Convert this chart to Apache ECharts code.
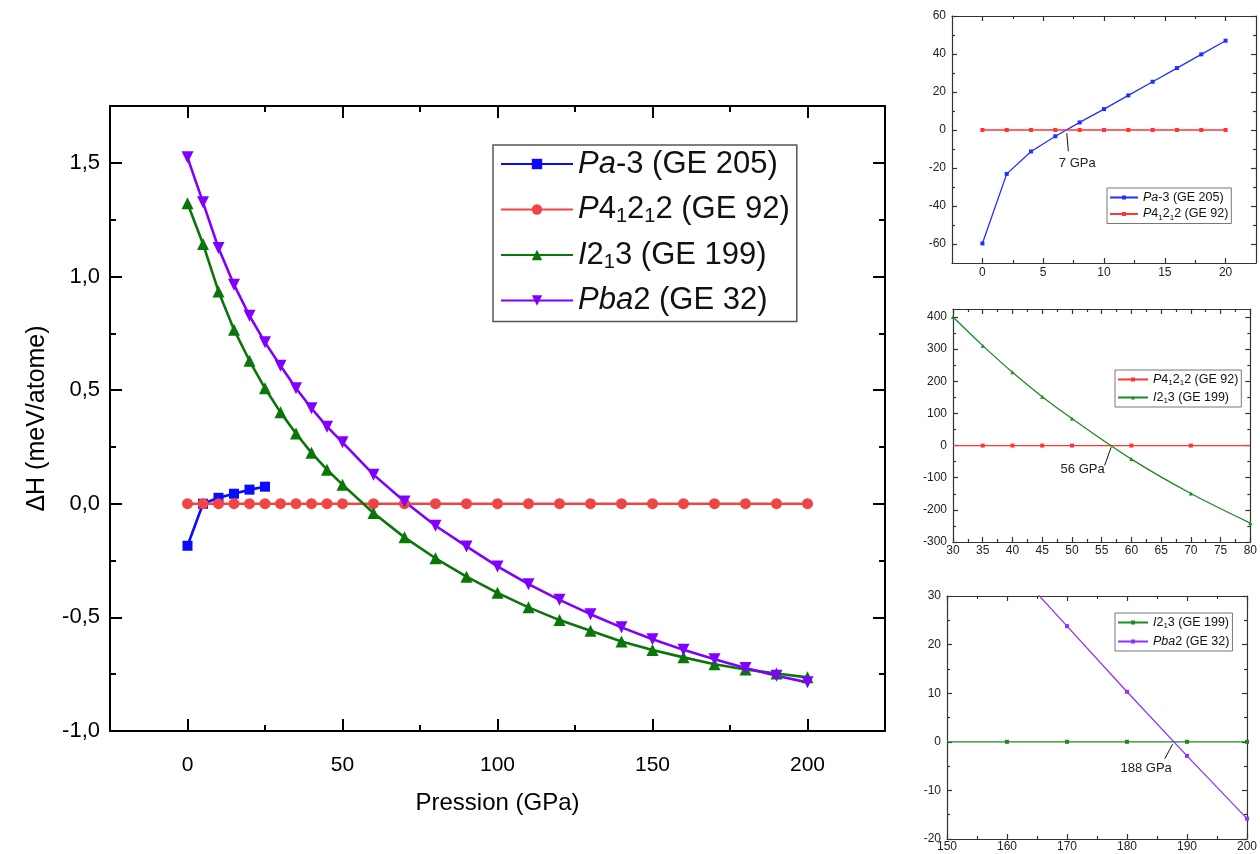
<!DOCTYPE html>
<html><head><meta charset="utf-8">
<script src="https://cdn.jsdelivr.net/npm/echarts@6/dist/echarts.min.js"></script>
<style>html,body{margin:0;padding:0;background:#fff;}#c{width:1260px;height:854px;}</style>
</head><body><div id="c"></div>
<script>
// ---------- main chart data ----------
const mainPa3X = [0, 5, 10, 15, 20, 25];
const mainPa3Y = [-0.185, 0.0, 0.026, 0.044, 0.062, 0.075];
const mainX = [0, 5, 10, 15, 20, 25, 30, 35, 40, 45, 50, 60, 70, 80, 90, 100, 110, 120, 130, 140, 150, 160, 170, 180, 190, 200];
const mainP41Y = [0, 0, 0, 0, 0, 0, 0, 0, 0, 0, 0, 0, 0, 0, 0, 0, 0, 0, 0, 0, 0, 0, 0, 0, 0, 0];
const mainI213Y = [1.322, 1.143, 0.934, 0.766, 0.629, 0.508, 0.402, 0.309, 0.224, 0.150, 0.084, -0.041, -0.148, -0.240, -0.321, -0.392, -0.456, -0.512, -0.559, -0.606, -0.644, -0.676, -0.706, -0.729, -0.747, -0.764];
const mainPba2Y = [1.524, 1.326, 1.125, 0.964, 0.827, 0.710, 0.607, 0.508, 0.420, 0.339, 0.270, 0.128, 0.010, -0.097, -0.188, -0.276, -0.354, -0.423, -0.486, -0.544, -0.596, -0.643, -0.684, -0.723, -0.757, -0.786];
const mainXTicks = [0, 50, 100, 150, 200];
const mainXMinor = [25, 75, 125, 175];
const mainYTicks = [-1, -0.5, 0, 0.5, 1, 1.5];
const mainYMinor = [-0.75, -0.25, 0.25, 0.75, 1.25];

// ---------- inset 1 (7 GPa) ----------
const in1X = [0, 2, 4, 6, 8, 10, 12, 14, 16, 18, 20];
const in1Pa3Y = [-59.7, -23.1, -11.3, -3.3, 4.0, 11.0, 18.2, 25.4, 32.6, 39.8, 47.0];
const in1P41Y = [0, 0, 0, 0, 0, 0, 0, 0, 0, 0, 0];
const in1XTicks = [0, 5, 10, 15, 20];
const in1XMinor = [2.5, 7.5, 12.5, 17.5];
const in1YTicks = [-60, -40, -20, 0, 20, 40, 60];
const in1YMinor = [-50, -30, -10, 10, 30, 50];

// ---------- inset 2 (56 GPa) ----------
const in2X = [30, 35, 40, 45, 50, 60, 70, 80];
const in2P41Y = [0, 0, 0, 0, 0, 0, 0, 0];
const in2I213Y = [400, 311, 228, 152, 84, -42, -149, -241];
const in2XTicks = [30, 35, 40, 45, 50, 55, 60, 65, 70, 75, 80];
const in2XMinor = [32.5, 37.5, 42.5, 47.5, 52.5, 57.5, 62.5, 67.5, 72.5, 77.5];
const in2YTicks = [-300, -200, -100, 0, 100, 200, 300, 400];
const in2YMinor = [-250, -150, -50, 50, 150, 250, 350];

// ---------- inset 3 (188 GPa) ----------
const in3X = [150, 160, 170, 180, 190, 200];
const in3I213Y = [0, 0, 0, 0, 0, 0];
const in3PbaX = [160, 170, 180, 190, 200];
const in3PbaY = [37.3, 23.8, 10.3, -2.9, -15.8];
const in3XTicks = [150, 160, 170, 180, 190, 200];
const in3XMinor = [155, 165, 175, 185, 195];
const in3YTicks = [-20, -10, 0, 10, 20, 30];
const in3YMinor = [-15, -5, 5, 15, 25];

// annotations (data coordinates)
const ann1 = {text: '7 GPa', at: [7.8, -17.4], from: [7.07, -11.2], to: [6.94, -1.7]};
const ann2 = {text: '56 GPa', at: [51.8, -75], from: [55.5, -62], to: [56.6, -5]};
const ann3 = {text: '188 GPa', at: [183.2, -5.4], from: [186.3, -3.5], to: [187.6, -0.5]};

const NAMES = {
  pa3: 'Pa-3 (GE 205)', p41: 'P4₁2₁2 (GE 92)', i213: 'I2₁3 (GE 199)', pba2: 'Pba2 (GE 32)'
};
const RICH = {
  'Pa-3 (GE 205)': '{i|Pa}{n|-3 (GE 205)}',
  'P4₁2₁2 (GE 92)': '{i|P}{n|4}{s|1}{n|2}{s|1}{n|2 (GE 92)}',
  'I2₁3 (GE 199)': '{i|I}{n|2}{s|1}{n|3 (GE 199)}',
  'Pba2 (GE 32)': '{i|Pba}{n|2 (GE 32)}'
};

const FONT = '"Liberation Sans", Arial, sans-serif';
const comma = v => v.toFixed(1).replace('.', ',');

const xAxes = [], yAxes = [];
function addAxes(list, dim, grid, min, max, majors, minors, opts) {
  const first = list.length;
  const pos = dim === 'x' ? ['bottom', 'top'] : ['left', 'right'];
  pos.forEach((p, k) => {
    const major = {
      type: 'value', gridIndex: grid, position: p, min: min, max: max,
      axisLine: {show: true, onZero: false, lineStyle: opts.line},
      axisTick: {show: true, inside: true, length: opts.len[0], customValues: majors, lineStyle: opts.line},
      axisLabel: k === 0 ? Object.assign({show: true, customValues: majors}, opts.label) : {show: false},
      splitLine: {show: false}, minorTick: {show: false}
    };
    if (k === 0 && opts.name) Object.assign(major, opts.name);
    list.push(major);
    list.push({
      type: 'value', gridIndex: grid, position: p, min: min, max: max,
      axisLine: {show: false, onZero: false},
      axisTick: {show: true, inside: true, length: opts.len[1], customValues: minors, lineStyle: opts.line},
      axisLabel: {show: false}, splitLine: {show: false}
    });
  });
  return first;
}

const mainLine = {color: '#000', width: 2};
const insetLine = {color: '#333', width: 1.2};
const gx0 = addAxes(xAxes, 'x', 0, -25, 225, mainXTicks, mainXMinor, {
  line: mainLine, len: [12, 6],
  label: {fontFamily: FONT, fontSize: 21, color: '#000', margin: 24},
  name: {name: 'Pression (GPa)', nameLocation: 'middle', nameGap: 60,
    nameTextStyle: {fontFamily: FONT, fontSize: 24, color: '#000'}}
});
const gy0 = addAxes(yAxes, 'y', 0, -1, 1.75, mainYTicks, mainYMinor, {
  line: mainLine, len: [12, 6],
  label: {fontFamily: FONT, fontSize: 22, color: '#000', margin: 10, formatter: comma},
  name: {name: 'ΔH (meV/atome)', nameLocation: 'middle', nameGap: 60,
    nameTextStyle: {fontFamily: FONT, fontSize: 25, color: '#000'}}
});
const insetLabel = (m) => ({fontFamily: FONT, fontSize: 12, color: '#222', margin: m});
const gx1 = addAxes(xAxes, 'x', 1, -2.5, 22.5, in1XTicks, in1XMinor, {line: insetLine, len: [5, 3], label: insetLabel(4)});
const gy1 = addAxes(yAxes, 'y', 1, -70, 60, in1YTicks, in1YMinor, {line: insetLine, len: [5, 3], label: insetLabel(6)});
const gx2 = addAxes(xAxes, 'x', 2, 30, 80, in2XTicks, in2XMinor, {line: insetLine, len: [5, 3], label: insetLabel(3)});
const gy2 = addAxes(yAxes, 'y', 2, -300, 425, in2YTicks, in2YMinor, {line: insetLine, len: [5, 3], label: insetLabel(6)});
const gx3 = addAxes(xAxes, 'x', 3, 150, 200, in3XTicks, in3XMinor, {line: insetLine, len: [5, 3], label: insetLabel(2)});
const gy3 = addAxes(yAxes, 'y', 3, -20, 30, in3YTicks, in3YMinor, {line: insetLine, len: [5, 3], label: insetLabel(6)});

const pairs = (xs, ys) => xs.map((x, i) => [x, ys[i]]);
const INV_TRI = 'path://M0,0 L10,0 L5,9 Z';

function lineSeries(name, xi, yi, data, color, symbol, size, width, extra) {
  return Object.assign({
    type: 'line', name: name, xAxisIndex: xi, yAxisIndex: yi, data: data,
    symbol: symbol, symbolSize: size, showAllSymbol: true, clip: true,
    lineStyle: {color: color, width: width}, itemStyle: {color: color},
    emphasis: {disabled: true}, animation: false, z: 3
  }, extra || {});
}
function annotate(a) {
  return {
    markLine: {
      silent: true, symbol: ['none', 'arrow'], symbolSize: [0, 7], animation: false,
      label: {show: false}, lineStyle: {color: '#111', width: 1, type: 'solid'},
      data: [[{coord: a.from}, {coord: a.to}]]
    },
    markPoint: {
      silent: true, symbol: 'circle', symbolSize: 1, animation: false,
      itemStyle: {color: 'rgba(0,0,0,0)'},
      label: {show: true, position: 'inside', formatter: a.text, fontFamily: FONT, fontSize: 13, color: '#222'},
      data: [{coord: a.at}]
    }
  };
}
// hide markers at the line ends that sit on the frame
const edgeless = (xs, ys, lo, hi) => xs.map((x, i) => (x === lo || x === hi) ? {value: [x, ys[i]], symbol: 'none'} : [x, ys[i]]);

const series = [
  // main
  lineSeries(NAMES.pa3, gx0, gy0, pairs(mainPa3X, mainPa3Y), '#0a0aff', 'rect', 10, 2.6),
  lineSeries(NAMES.p41, gx0, gy0, pairs(mainX, mainP41Y), '#f04545', 'circle', 11, 2.6),
  lineSeries(NAMES.i213, gx0, gy0, pairs(mainX, mainI213Y), '#0a760a', 'triangle', 12, 2.6),
  lineSeries(NAMES.pba2, gx0, gy0, pairs(mainX, mainPba2Y), '#8000ff', INV_TRI, 12, 2.6),
  // inset 1
  lineSeries(NAMES.pa3 + ' ', gx1, gy1, pairs(in1X, in1Pa3Y), '#1f2fff', 'rect', 4, 1.3),
  lineSeries(NAMES.p41 + ' ', gx1, gy1, pairs(in1X, in1P41Y), '#ff3535', 'rect', 4, 1.5, annotate(ann1)),
  // inset 2
  lineSeries(NAMES.p41 + '  ', gx2, gy2, edgeless(in2X, in2P41Y, 30, 80), '#ff3535', 'rect', 4, 1.2),
  lineSeries(NAMES.i213 + ' ', gx2, gy2, pairs(in2X, in2I213Y), '#1f8a1f', 'triangle', 4, 1.3, Object.assign({smooth: 0.35}, annotate(ann2))),
  // inset 3
  lineSeries(NAMES.i213 + '  ', gx3, gy3, edgeless(in3X, in3I213Y, 150, 150), '#1f8a1f', 'rect', 4, 1.3),
  lineSeries(NAMES.pba2 + ' ', gx3, gy3, pairs(in3PbaX, in3PbaY), '#9430ff', 'rect', 4, 1.3, annotate(ann3))
];

function richStyle(fs, lh, sub, subLh) {
  return {
    fontFamily: FONT, fontSize: fs, color: '#111', lineHeight: lh,
    rich: {
      i: {fontFamily: FONT, fontStyle: 'italic', fontSize: fs, lineHeight: lh, color: '#111'},
      n: {fontFamily: FONT, fontSize: fs, lineHeight: lh, color: '#111'},
      s: {fontFamily: FONT, fontSize: sub, lineHeight: subLh, verticalAlign: 'bottom', color: '#111'}
    }
  };
}
const fmt = name => RICH[name.trim()];
function legend(names, left, top, opt) {
  return Object.assign({
    data: names, left: left, top: top, orient: 'vertical', selectedMode: false,
    formatter: fmt, backgroundColor: '#fff'
  }, opt);
}

const option = {
  animation: false,
  backgroundColor: '#fff',
  grid: [
    {left: 110, top: 106, width: 775, height: 625},
    {left: 952, top: 16, width: 304, height: 247},
    {left: 953, top: 309, width: 300, height: 233},
    {left: 947, top: 596, width: 303, height: 243}
  ],
  xAxis: xAxes,
  yAxis: yAxes,
  legend: [
    legend([NAMES.pa3, NAMES.p41, NAMES.i213, NAMES.pba2], 493, 145, {
      itemWidth: 72, itemHeight: 13, itemGap: 11.5, padding: [2, 7, 4, 7],
      borderColor: '#555', borderWidth: 1.5, textStyle: richStyle(31, 34, 20, 16)
    }),
    legend([NAMES.pa3 + ' ', NAMES.p41 + ' '], 1107, 188, {
      itemWidth: 28, itemHeight: 5, itemGap: 1.5, padding: [2, 3, 2, 2],
      borderColor: '#777', borderWidth: 1, textStyle: richStyle(12.5, 15, 8, 7)
    }),
    legend([NAMES.p41 + '  ', NAMES.i213 + ' '], 1115, 370, {
      itemWidth: 30, itemHeight: 5, itemGap: 3, padding: [2, 3, 2, 2],
      borderColor: '#777', borderWidth: 1, textStyle: richStyle(12.5, 15, 8, 7)
    }),
    legend([NAMES.i213 + '  ', NAMES.pba2 + ' '], 1115, 613, {
      itemWidth: 30, itemHeight: 5, itemGap: 4, padding: [2, 3, 2, 2],
      borderColor: '#777', borderWidth: 1, textStyle: richStyle(12.5, 15, 8, 7)
    })
  ],
  series: series
};

const chart = echarts.init(document.getElementById('c'), null, {renderer: 'canvas'});
chart.setOption(option);
</script>
</body></html>
